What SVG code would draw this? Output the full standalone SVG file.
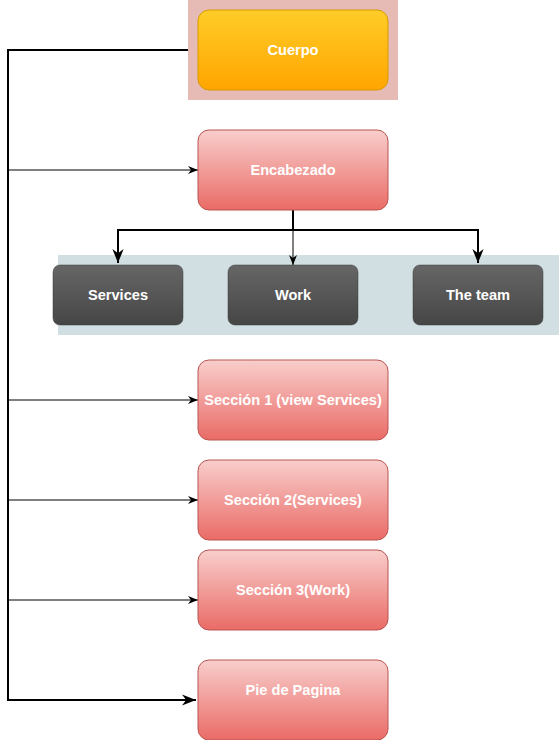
<svg xmlns="http://www.w3.org/2000/svg" width="559" height="740" viewBox="0 0 559 740">
<defs>
<linearGradient id="gOrange" x1="0" y1="0" x2="0" y2="1"><stop offset="0" stop-color="#ffcd28"/><stop offset="1" stop-color="#ffa500"/></linearGradient>
<linearGradient id="gRed" x1="0" y1="0" x2="0" y2="1"><stop offset="0" stop-color="#f8cecc"/><stop offset="1" stop-color="#ea6b66"/></linearGradient>
<linearGradient id="gGray" x1="0" y1="0" x2="0" y2="1"><stop offset="0" stop-color="#666666"/><stop offset="1" stop-color="#464646"/></linearGradient>
<marker id="arr" viewBox="0 0 10 10" refX="10" refY="5" markerWidth="10" markerHeight="10" markerUnits="userSpaceOnUse" orient="auto"><path d="M0,1 L10,5 L0,9 L3,5 Z" fill="#000"/></marker>
<marker id="arrB" viewBox="0 0 10 10" refX="10" refY="5" markerWidth="7" markerHeight="7" orient="auto"><path d="M0,1 L10,5 L0,9 L3,5 Z" fill="#000"/></marker>
</defs>
<style>
.t{font-family:"Liberation Sans",Arial,sans-serif;font-weight:bold;font-size:14.6px;fill:#ffffff;text-anchor:middle;dominant-baseline:central}
.red{fill:url(#gRed);stroke:#b85450;stroke-width:1}
.gray{fill:url(#gGray);stroke:#3a3a3a;stroke-width:0.5}
.thin{fill:none;stroke:#000;stroke-width:1}
.thick{fill:none;stroke:#000;stroke-width:2}
</style>
<rect x="188" y="0" width="210" height="100" fill="#e6bbb6"/>
<rect x="58" y="255" width="501" height="80" fill="#d1dfe3"/>
<g id="connectors">
<path class="thick" d="M188,50 H8 V700 H196" marker-end="url(#arrB)"/>
<path class="thin" d="M8,170 H198" marker-end="url(#arr)"/>
<path class="thin" d="M8,400 H198" marker-end="url(#arr)"/>
<path class="thin" d="M8,500 H198" marker-end="url(#arr)"/>
<path class="thin" d="M8,600 H198" marker-end="url(#arr)"/>
<path class="thick" d="M293,210 V230 H118 V263" marker-end="url(#arrB)"/>
<path class="thick" d="M293,230 H478 V263" marker-end="url(#arrB)"/>
<path class="thin" d="M293,210 V265" marker-end="url(#arr)"/>
</g>
<g id="cuerpo"><rect x="198" y="10" width="190" height="80" rx="11" fill="url(#gOrange)" stroke="#d79b00"/><text class="t" x="293" y="50">Cuerpo</text></g>
<g id="encabezado"><rect class="red" x="198" y="130" width="190" height="80" rx="11"/><text class="t" x="293" y="170">Encabezado</text></g>
<g id="services"><rect class="gray" x="53" y="265" width="130" height="60" rx="7"/><text class="t" x="118" y="295">Services</text></g>
<g id="work"><rect class="gray" x="228" y="265" width="130" height="60" rx="7"/><text class="t" x="293" y="295">Work</text></g>
<g id="team"><rect class="gray" x="413" y="265" width="130" height="60" rx="7"/><text class="t" x="478" y="295">The team</text></g>
<g id="seccion1"><rect class="red" x="198" y="360" width="190" height="80" rx="11"/><text class="t" x="293" y="400">Sección 1 (view Services)</text></g>
<g id="seccion2"><rect class="red" x="198" y="460" width="190" height="80" rx="11"/><text class="t" x="293" y="500">Sección 2(Services)</text></g>
<g id="seccion3"><rect class="red" x="198" y="550" width="190" height="80" rx="11"/><text class="t" x="293" y="590">Sección 3(Work)</text></g>
<g id="pie"><rect class="red" x="198" y="660" width="190" height="80" rx="11"/><text class="t" x="293" y="690">Pie de Pagina</text></g>
</svg>
